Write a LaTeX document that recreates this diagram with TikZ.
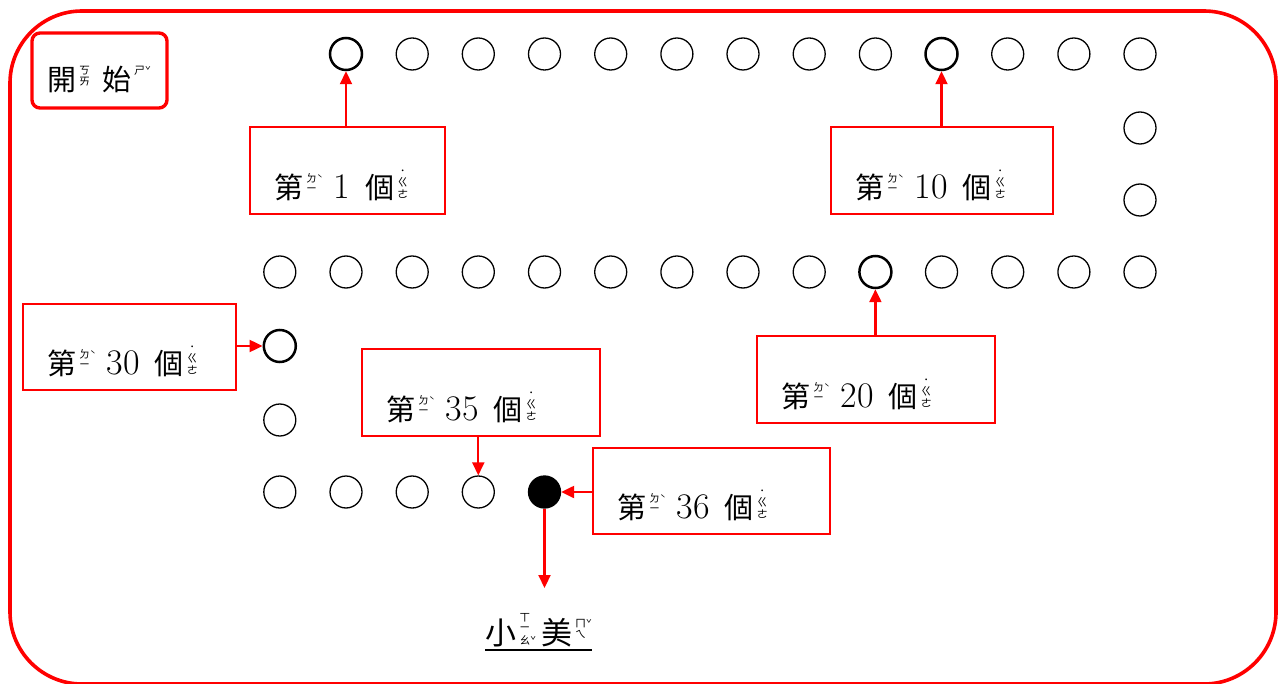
\documentclass[tikz,border=0pt]{standalone}
\usepackage{fontspec}
\newfontfamily\cjk{Noto Sans CJK TC}
\usetikzlibrary{arrows.meta}
\definecolor{bred}{RGB}{255,0,0}
\newcommand\zy[1]{\hspace{3pt}{\cjk\fontsize{11}{10.5}\selectfont\raisebox{11pt}{\begin{tabular}[c]{@{}c@{}l@{}}#1\end{tabular}}}}
\newcommand\tn[1]{{\fontsize{9.5}{9.5}\selectfont #1}}
\newcommand\hz[1]{{\cjk\fontsize{29}{30}\selectfont #1}}
\newcommand\hzb[1]{{\cjk\fontsize{31}{32}\selectfont #1}}
\newcommand\bignum[1]{{\fontsize{36}{36}\selectfont #1}}
\newcommand\dlabel[1]{\hz{第}\zy{ㄉ&\tn{ˋ}\\ㄧ&}\hspace{11pt}\bignum{#1}\hspace{15pt}\hz{個}\zy{\tn{˙}&\\ㄍ&\\ㄜ&}}
\begin{document}
\begin{tikzpicture}[x=1pt,y=-1pt,
  ring/.style={circle,draw=black,line width=1.3pt,minimum size=32pt,inner sep=0pt},
  ringb/.style={ring,line width=2.5pt},
  ringf/.style={ring,fill=black},
  callout/.style={draw=bred,line width=2.2pt,inner sep=0pt},
  lbl/.style={inner sep=0pt,anchor=base west},
  link/.style={draw=bred,line width=2.2pt,-{Triangle[length=13pt,width=12pt]}}]
\useasboundingbox (0,0) rectangle (1281,684);
\draw[bred,line width=3.6pt,rounded corners=72pt] (10,11) rectangle (1276,684);
% start box
\node[draw=bred,line width=3.4pt,rounded corners=8pt,minimum width=135pt,minimum height=75pt,inner sep=0pt] (start) at (99.5,70.5) {};
\node[lbl] (starttxt) at (47,91) {\hz{開}\zy{ㄎ&\\ㄞ&}\hspace{12pt}\hz{始}\zy{ㄕ&\tn{ˇ}\\&}};
% circles
\foreach \i/\x/\y/\s in {
  1/346/54/ringb, 2/412.2/54/ring, 3/478.3/54/ring, 4/544.5/54/ring, 5/610.7/54/ring,
  6/676.9/54/ring, 7/743/54/ring, 8/809.2/54/ring, 9/875.4/54/ring, 10/941.5/54/ringb,
  11/1007.7/54/ring, 12/1073.9/54/ring, 13/1140/54/ring,
  14/1140/128/ring, 15/1140/200/ring,
  16/1140/272/ring, 17/1073.9/272/ring, 18/1007.7/272/ring, 19/941.5/272/ring,
  20/875.4/272/ringb, 21/809.2/272/ring, 22/743/272/ring, 23/676.9/272/ring,
  24/610.7/272/ring, 25/544.5/272/ring, 26/478.3/272/ring, 27/412.2/272/ring,
  28/346/272/ring, 29/279.8/272/ring,
  30/279.8/346/ringb, 31/279.8/420/ring,
  32/279.8/492/ring, 33/346/492/ring, 34/412.2/492/ring, 35/478.3/492/ring,
  36/544.5/492/ringf}
  \node[\s] (c\i) at (\x,\y) {};
% callouts
\node[callout,minimum width=195pt,minimum height=87pt] (b1) at (347.5,170.5) {};
\node[callout,minimum width=222pt,minimum height=87pt] (b10) at (942,170.5) {};
\node[callout,minimum width=213pt,minimum height=86pt] (b30) at (129.5,347) {};
\node[callout,minimum width=238pt,minimum height=87pt] (b35) at (481,392.5) {};
\node[callout,minimum width=238pt,minimum height=87pt] (b20) at (876,379.5) {};
\node[callout,minimum width=237pt,minimum height=86pt] (b36) at (711.5,491) {};
\node[lbl] (t1) at ([xshift=25pt,yshift=17pt]b1.south west) {\dlabel{1}};
\node[lbl] (t10) at ([xshift=25pt,yshift=17pt]b10.south west) {\dlabel{10}};
\node[lbl] (t30) at ([xshift=25pt,yshift=17pt]b30.south west) {\dlabel{30}};
\node[lbl] (t35) at ([xshift=25pt,yshift=17pt]b35.south west) {\dlabel{35}};
\node[lbl] (t20) at ([xshift=25pt,yshift=17pt]b20.south west) {\dlabel{20}};
\node[lbl] (t36) at ([xshift=25pt,yshift=17pt]b36.south west) {\dlabel{36}};
% arrows
\draw[link] (c1 |- b1.north) -- (c1.south);
\draw[link] (c10 |- b10.north) -- (c10.south);
\draw[link] (b30.east |- c30) -- (c30.west);
\draw[link] (c35 |- b35.south) -- (c35.north);
\draw[link] (c20 |- b20.north) -- (c20.south);
\draw[link] (b36.west |- c36) -- (c36.east);
\coordinate (xmtop) at (544.5,588);
\draw[link] (c36.south) -- (xmtop);
% name
\node[lbl,anchor=base] (xm) at (538.5,644) {\hzb{小}\zy{ㄒ&\\ㄧ&\\ㄠ&\tn{ˇ}}\hspace{5pt}\hzb{美}\zy{ㄇ&\tn{ˇ}\\ㄟ&}};
\draw[line width=1.6pt] ([yshift=-6pt]xm.base west) -- ([yshift=-6pt]xm.base east);
\end{tikzpicture}
\end{document}
